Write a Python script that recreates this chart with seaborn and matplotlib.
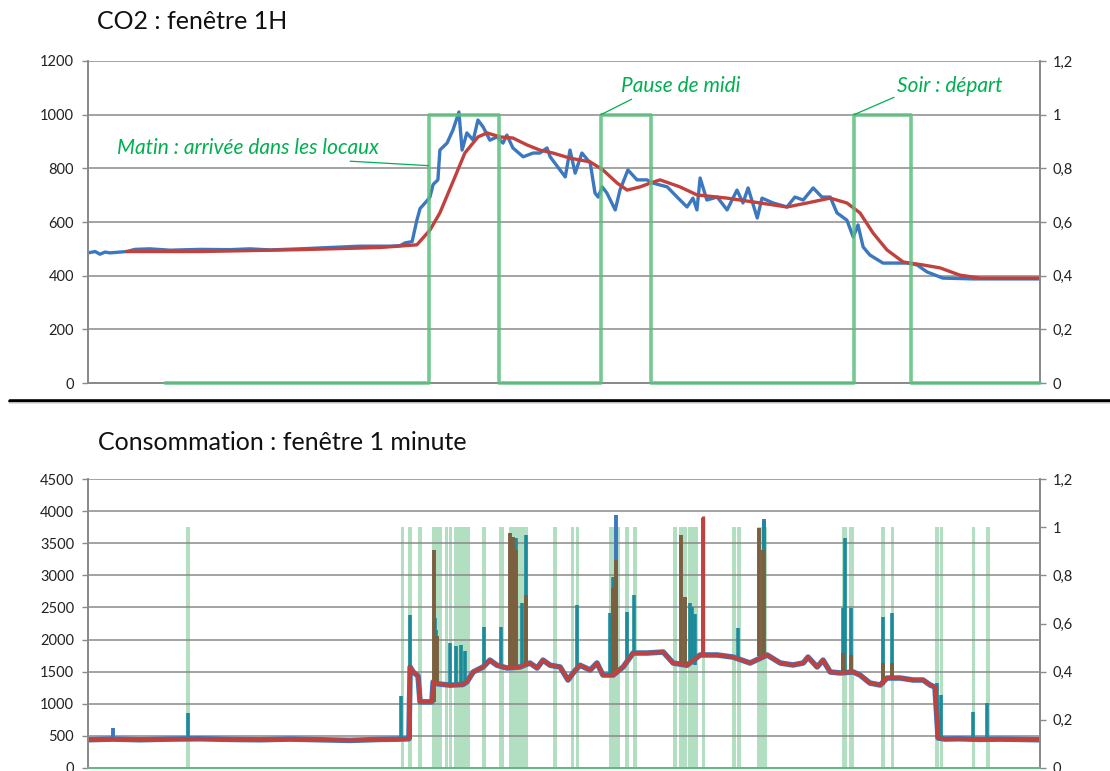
import matplotlib
matplotlib.use('Agg')
import matplotlib.pyplot as plt
from matplotlib.lines import Line2D
import seaborn as sns

# ---- CO2 chart : fenetre 1H (time in hours) ----
co2_t = [0.00, 0.18, 0.30, 0.43, 0.55, 0.98, 1.18, 1.56, 2.07, 2.82, 3.58, 4.08, 4.59, 5.34,
         6.10, 6.86, 7.61, 7.87, 7.99, 8.17, 8.29, 8.37, 8.55, 8.62, 8.70, 8.82, 8.87, 9.05,
         9.20, 9.35, 9.43, 9.55, 9.71, 9.83, 9.96, 10.13, 10.31, 10.46, 10.56, 10.71, 10.97,
         11.22, 11.39, 11.57, 11.65, 12.03, 12.15, 12.28, 12.45, 12.66, 12.78, 12.86, 12.96,
         13.08, 13.29, 13.41, 13.61, 13.84, 14.09, 14.24, 14.60, 14.85, 15.10, 15.25, 15.35,
         15.43, 15.60, 15.86, 16.11, 16.36, 16.51, 16.64, 16.87, 16.99, 17.27, 17.62, 17.82,
         18.03, 18.28, 18.50, 18.71, 18.88, 19.13, 19.29, 19.41, 19.54, 19.71, 20.04, 20.65,
         20.90, 21.15, 21.55, 22.31, 24.00]
co2_raw = [485, 490, 480, 488, 485, 490, 498, 500, 495, 498, 497, 500, 496, 500,
           505, 510, 510, 512, 522, 527, 607, 650, 680, 693, 740, 757, 868, 894,
           943, 1010, 868, 932, 905, 980, 954, 905, 917, 894, 924, 876, 843,
           857, 857, 876, 843, 768, 868, 782, 857, 820, 708, 693, 731,
           708, 645, 719, 794, 757, 757, 745, 731, 693, 656, 689, 645,
           764, 682, 693, 645, 719, 671, 727, 615, 689, 671, 656, 693,
           682, 727, 693, 693, 634, 607, 544, 589, 507, 477, 447, 447,
           440, 414, 391, 388, 388]
co2_avg_t = [0.98, 2.82, 5.34, 7.36, 8.29, 8.62, 8.87, 9.25, 9.50, 9.83, 10.06, 10.39, 10.71,
             11.07, 11.39, 11.72, 12.15, 12.66, 12.98, 13.34, 13.59, 13.92, 14.17, 14.42,
             14.92, 15.35, 16.11, 16.94, 17.62, 18.13, 18.71, 19.13, 19.46, 19.79, 20.14,
             20.55, 21.05, 21.48, 21.98, 22.49, 24.00]
co2_avg = [490, 490, 497, 505, 515, 570, 634, 768, 857, 917, 932, 917, 913,
           887, 868, 857, 838, 824, 794, 745, 719, 731, 745, 757,
           731, 701, 689, 671, 656, 671, 689, 671, 634, 559, 496,
           451, 440, 429, 402, 391, 391]
presence_t = [1.94, 8.60, 10.36, 12.93, 14.19, 19.31, 20.75, 24.00]
presence = [0, 1, 0, 1, 0, 1, 0, 0]

# ---- Consommation chart : fenetre 1 minute ----
conso_t = [0.00, 0.30, 0.63, 1.31, 2.07, 2.82, 3.58, 4.34, 5.09, 5.85, 6.60, 7.36, 7.87,
           8.09, 8.12, 8.19, 8.32, 8.37, 8.67, 8.70, 8.82, 9.13, 9.45, 9.55, 9.71, 9.96,
           10.13, 10.31, 10.56, 10.89, 11.14, 11.32, 11.47, 11.65, 11.90, 12.10, 12.23,
           12.40, 12.66, 12.83, 12.98, 13.24, 13.49, 13.74, 14.09, 14.50, 14.75, 15.10,
           15.43, 15.86, 16.26, 16.69, 17.12, 17.45, 17.77, 18.03, 18.15, 18.38, 18.53,
           18.71, 18.96, 19.29, 19.46, 19.71, 19.97, 20.14, 20.47, 20.80, 21.05, 21.23,
           21.35, 21.43, 21.60, 21.98, 22.49, 22.99, 23.50, 24.00]
conso = [440, 445, 450, 440, 450, 455, 445, 440, 450, 440, 430, 445, 450,
         455, 1573, 1500, 1430, 1030, 1030, 1340, 1310, 1290, 1300, 1340, 1495, 1573,
         1680, 1600, 1557, 1573, 1635, 1557, 1680, 1600, 1573, 1370, 1480,
         1600, 1526, 1635, 1448, 1448, 1573, 1790, 1790, 1806, 1635, 1600,
         1760, 1760, 1727, 1635, 1760, 1635, 1604, 1635, 1727, 1573, 1680,
         1495, 1480, 1495, 1448, 1323, 1292, 1401, 1401, 1370, 1370, 1292,
         1261, 467, 451, 455, 445, 450, 445, 440]

# short peaks (time, base, top)
teal_t = [2.52, 7.89, 8.12, 8.75, 8.77, 9.13, 9.28, 9.40, 9.50, 9.98, 10.41, 10.79, 10.94,
          11.04, 12.33, 13.16, 13.24, 13.59, 13.76, 15.18, 15.23, 15.30, 16.39, 17.05,
          19.03, 19.08, 19.23, 20.04, 20.27, 21.40, 21.50, 22.31, 22.66]
teal_lo = [450, 450, 450, 1340, 1320, 1290, 1290, 1300, 1300, 1573, 1580, 1560, 1573,
           1600, 1550, 1448, 1448, 1650, 1790, 1600, 1620, 1600, 1700, 1760,
           1480, 1480, 1495, 1290, 1401, 467, 451, 451, 451]
teal_hi = [860, 1120, 2380, 2335, 2150, 1946, 1895, 1920, 1820, 2195, 2195, 3580, 2570,
           3630, 2540, 2410, 2975, 2430, 2700, 2570, 2500, 2400, 2180, 3850,
           2490, 3580, 2490, 2350, 2410, 1320, 1140, 870, 1010]
brown_t = [8.12, 8.72, 8.80, 10.64, 10.71, 10.79, 11.04, 13.24, 13.31, 14.96, 15.04, 15.50,
           16.92, 17.02, 19.03, 19.23, 20.04, 20.27]
brown_lo = [450, 1030, 1310, 1557, 1557, 1560, 1600, 1448, 1448, 1635, 1600, 1760,
            1740, 1760, 1480, 1495, 1290, 1401]
brown_hi = [1600, 3394, 2050, 3660, 3600, 3400, 2700, 2800, 3240, 3630, 2660, 3900,
            3740, 3400, 1790, 1760, 1635, 1635]
blue_t = [0.63, 13.31, 17.05]
blue_lo = [450, 1448, 1760]
blue_hi = [620, 3940, 3880]
red_t = [15.50]
red_lo = [1760]
red_hi = [3920]

# occupancy signal (start, end in hours)
occ_start = [2.47, 7.89, 8.07, 8.32, 8.67, 9.00, 9.10, 9.23, 9.93, 10.36, 10.61, 11.72,
             12.18, 12.30, 13.13, 13.54, 13.74, 14.75, 14.90, 15.13, 15.48, 16.24, 16.36,
             16.87, 19.01, 19.18, 19.99, 20.24, 21.35, 21.48, 22.29, 22.64]
occ_end = [2.57, 7.97, 8.17, 8.42, 8.92, 9.08, 9.18, 9.63, 10.03, 10.49, 11.09, 11.82,
           12.25, 12.38, 13.41, 13.64, 13.84, 14.85, 15.10, 15.38, 15.55, 16.34, 16.46,
           17.12, 19.13, 19.31, 20.09, 20.32, 21.45, 21.55, 22.36, 22.74]

BLUE = '#3b78c0'
RED = '#c0413d'
TEAL = '#1b8a9a'
BROWN = '#7b6040'
GREEN = '#5cbf7e'
GREEN_TXT = '#00b050'
BARS = '#b2dfc2'
GRID = '#8a8a8a'

sns.set_theme(style='white')
plt.rcParams['font.family'] = ['Lato', 'DejaVu Sans']

fig = plt.figure(figsize=(11.10, 7.71), dpi=100)
ax_top = fig.add_axes([0.0793, 0.5032, 0.8577, 0.4177])
ax_bot = fig.add_axes([0.0793, 0.0039, 0.8577, 0.3748])


def style_axes(ax, ax2, ymax, ystep):
    ax.set_xlim(0, 24)
    ax.set_ylim(0, ymax)
    ax.set_yticks(range(0, ymax + 1, ystep))
    ax.set_xticks([])
    ax.grid(axis='y', color=GRID, linewidth=1.1)
    ax.set_axisbelow(True)
    ax.set_xlabel('')
    ax.set_ylabel('')
    ax.tick_params(axis='y', left=True, length=4, width=1, color=GRID, pad=6,
                   labelsize=10.5, labelcolor='#222222')
    ax.spines['top'].set_visible(False)
    ax2.spines['top'].set_visible(False)
    for s in ['left', 'right', 'bottom']:
        ax.spines[s].set_color(GRID)
        ax2.spines[s].set_color(GRID)
    ax2.set_ylim(0, 1.2)
    ax2.set_yticks([0, 0.2, 0.4, 0.6, 0.8, 1.0, 1.2])
    ax2.set_yticklabels(['0', '0,2', '0,4', '0,6', '0,8', '1', '1,2'])
    ax2.tick_params(axis='y', right=True, length=4, width=1, color=GRID, pad=5,
                    labelsize=10.5, labelcolor='#222222')
    ax2.grid(False)
    ax2.set_ylabel('')


# ---- top chart ----
ax_top2 = ax_top.twinx()
sns.lineplot(x=co2_t, y=co2_raw, ax=ax_top, color=BLUE, linewidth=2.4)
sns.lineplot(x=co2_avg_t, y=co2_avg, ax=ax_top, color=RED, linewidth=2.4)
sns.lineplot(x=presence_t, y=presence, ax=ax_top2, color=GREEN, linewidth=2.6,
             drawstyle='steps-post', alpha=0.85, zorder=3, clip_on=False)
style_axes(ax_top, ax_top2, 1200, 200)

note = dict(color=GREEN_TXT, fontsize=15, fontstyle='italic', ha='center', va='center')
ax_top2.annotate('Matin : arrivée dans les locaux', xy=(8.58, 0.81), xytext=(4.03, 0.876),
                 arrowprops=dict(arrowstyle='-', color=GREEN_TXT, lw=0.9, relpos=(0.67, 0),
                                 shrinkA=0, shrinkB=0), **note)
ax_top2.annotate('Pause de midi', xy=(12.93, 1.0), xytext=(14.95, 1.107),
                 arrowprops=dict(arrowstyle='-', color=GREEN_TXT, lw=0.9, relpos=(0.14, 0),
                                 shrinkA=0, shrinkB=0), **note)
ax_top2.annotate('Soir : départ', xy=(19.31, 1.0), xytext=(21.73, 1.107),
                 arrowprops=dict(arrowstyle='-', color=GREEN_TXT, lw=0.9, relpos=(0.0, 0),
                                 shrinkA=0, shrinkB=0), **note)

# ---- bottom chart (occupancy bars behind the power curves) ----
ax_bot2 = ax_bot.twinx()
widths = [e - s for s, e in zip(occ_start, occ_end)]
ax_bot2.bar(occ_start, [1] * len(occ_start), width=widths, align='edge',
            color=BARS, linewidth=0)
sns.lineplot(x=conso_t, y=conso, ax=ax_bot, color=BLUE, linewidth=4.0)
ax_bot.vlines(blue_t, blue_lo, blue_hi, color=BLUE, linewidth=2.8)
ax_bot.vlines(teal_t, teal_lo, teal_hi, color=TEAL, linewidth=2.6)
ax_bot.vlines(brown_t, brown_lo, brown_hi, color=BROWN, linewidth=2.8)
ax_bot.vlines(red_t, red_lo, red_hi, color=RED, linewidth=2.4)
sns.lineplot(x=conso_t, y=conso, ax=ax_bot, color=RED, linewidth=2.8)
style_axes(ax_bot, ax_bot2, 4500, 500)
ax_bot.set_zorder(ax_bot2.get_zorder() + 1)
ax_bot.patch.set_visible(False)
ax_bot.spines['bottom'].set_color(GREEN)

# titles
fig.text(0.0874, 0.972, 'CO2 : fenêtre 1H', fontsize=18, color='#111111', va='center')
fig.text(0.0883, 0.426, 'Consommation : fenêtre 1 minute', fontsize=18, color='#111111',
         va='center')

# separator between the two charts
fig.add_artist(Line2D([0.009, 1.0], [0.4805, 0.4805], color='black', linewidth=2.6))
fig.add_artist(Line2D([0.009, 1.0], [0.4772, 0.4772], color='#d8d8d8', linewidth=1.2))

fig.savefig('out.png', dpi=100)
